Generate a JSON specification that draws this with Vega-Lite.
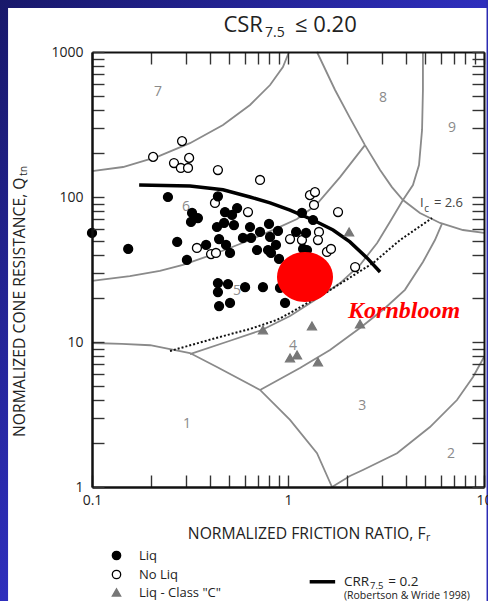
{
  "$schema": "https://vega.github.io/schema/vega-lite/v6.json",
  "width": 392,
  "height": 435,
  "autosize": {"type": "none"},
  "padding": {"left": 92, "top": 52, "right": 4, "bottom": 114},
  "background": "#2c2cb0",
  "config": {"view": {"stroke": null}, "font": "Open Sans"},
  "datasets": {
    "zones": [
      {"c": "z7", "i": 0, "Fr": 0.1, "Q": 151}, {"c": "z7", "i": 1, "Fr": 0.144, "Q": 161}, {"c": "z7", "i": 2, "Fr": 0.215, "Q": 189}, {"c": "z7", "i": 3, "Fr": 0.316, "Q": 235}, {"c": "z7", "i": 4, "Fr": 0.466, "Q": 314}, {"c": "z7", "i": 5, "Fr": 0.64, "Q": 431}, {"c": "z7", "i": 6, "Fr": 0.81, "Q": 592}, {"c": "z7", "i": 7, "Fr": 0.942, "Q": 788}, {"c": "z7", "i": 8, "Fr": 1.012, "Q": 1000},
      {"c": "z8", "i": 0, "Fr": 1.406, "Q": 1000}, {"c": "z8", "i": 1, "Fr": 1.738, "Q": 547}, {"c": "z8", "i": 2, "Fr": 2.07, "Q": 351}, {"c": "z8", "i": 3, "Fr": 2.47, "Q": 228}, {"c": "z8", "i": 4, "Fr": 2.95, "Q": 153.5}, {"c": "z8", "i": 5, "Fr": 3.39, "Q": 117}, {"c": "z8", "i": 6, "Fr": 3.86, "Q": 95.3}, {"c": "z8", "i": 7, "Fr": 4.71, "Q": 77.6}, {"c": "z8", "i": 8, "Fr": 5.97, "Q": 66.2}, {"c": "z8", "i": 9, "Fr": 7.81, "Q": 59.2}, {"c": "z8", "i": 10, "Fr": 10, "Q": 56.5},
      {"c": "z56", "i": 0, "Fr": 0.1, "Q": 26.4}, {"c": "z56", "i": 1, "Fr": 0.156, "Q": 28.5}, {"c": "z56", "i": 2, "Fr": 0.222, "Q": 30.9}, {"c": "z56", "i": 3, "Fr": 0.291, "Q": 34}, {"c": "z56", "i": 4, "Fr": 0.434, "Q": 41.1}, {"c": "z56", "i": 5, "Fr": 0.64, "Q": 50.5}, {"c": "z56", "i": 6, "Fr": 0.858, "Q": 60.1}, {"c": "z56", "i": 7, "Fr": 1.112, "Q": 70.5}, {"c": "z56", "i": 8, "Fr": 1.39, "Q": 88.1}, {"c": "z56", "i": 9, "Fr": 1.843, "Q": 137}, {"c": "z56", "i": 10, "Fr": 2.47, "Q": 228},
      {"c": "z45", "i": 0, "Fr": 0.316, "Q": 8.26}, {"c": "z45", "i": 1, "Fr": 0.506, "Q": 10.2}, {"c": "z45", "i": 2, "Fr": 0.736, "Q": 12.1}, {"c": "z45", "i": 3, "Fr": 1.024, "Q": 15.1}, {"c": "z45", "i": 4, "Fr": 1.373, "Q": 19.5}, {"c": "z45", "i": 5, "Fr": 1.843, "Q": 25.5}, {"c": "z45", "i": 6, "Fr": 2.33, "Q": 34}, {"c": "z45", "i": 7, "Fr": 2.85, "Q": 48.2}, {"c": "z45", "i": 8, "Fr": 3.31, "Q": 67.3}, {"c": "z45", "i": 9, "Fr": 3.86, "Q": 95.3}, {"c": "z45", "i": 10, "Fr": 4.34, "Q": 121}, {"c": "z45", "i": 11, "Fr": 4.66, "Q": 166}, {"c": "z45", "i": 12, "Fr": 4.83, "Q": 290}, {"c": "z45", "i": 13, "Fr": 4.88, "Q": 547}, {"c": "z45", "i": 14, "Fr": 4.88, "Q": 1000},
      {"c": "z34", "i": 0, "Fr": 0.72, "Q": 4.67}, {"c": "z34", "i": 1, "Fr": 1.151, "Q": 6.62}, {"c": "z34", "i": 2, "Fr": 1.638, "Q": 8.81}, {"c": "z34", "i": 3, "Fr": 2.33, "Q": 12.5}, {"c": "z34", "i": 4, "Fr": 3.12, "Q": 17.1}, {"c": "z34", "i": 5, "Fr": 3.95, "Q": 22.9}, {"c": "z34", "i": 6, "Fr": 4.88, "Q": 35.6}, {"c": "z34", "i": 7, "Fr": 5.62, "Q": 50.5}, {"c": "z34", "i": 8, "Fr": 6.1, "Q": 65.2},
      {"c": "z1", "i": 0, "Fr": 0.1, "Q": 9.84}, {"c": "z1", "i": 1, "Fr": 0.142, "Q": 9.7}, {"c": "z1", "i": 2, "Fr": 0.198, "Q": 9.5}, {"c": "z1", "i": 3, "Fr": 0.316, "Q": 8.39}, {"c": "z1", "i": 4, "Fr": 0.434, "Q": 6.73}, {"c": "z1", "i": 5, "Fr": 0.72, "Q": 4.67}, {"c": "z1", "i": 6, "Fr": 1.024, "Q": 2.9}, {"c": "z1", "i": 7, "Fr": 1.406, "Q": 1.71}, {"c": "z1", "i": 8, "Fr": 1.677, "Q": 1},
      {"c": "z2", "i": 0, "Fr": 1.677, "Q": 1}, {"c": "z2", "i": 1, "Fr": 2.07, "Q": 1.19}, {"c": "z2", "i": 2, "Fr": 2.41, "Q": 1.31}, {"c": "z2", "i": 3, "Fr": 3.6, "Q": 1.71}, {"c": "z2", "i": 4, "Fr": 5.3, "Q": 2.59}, {"c": "z2", "i": 5, "Fr": 7.28, "Q": 3.98}, {"c": "z2", "i": 6, "Fr": 8.79, "Q": 5.74}, {"c": "z2", "i": 7, "Fr": 10, "Q": 7.88}
    ],
    "crr": [
      {"i": 0, "Fr": 0.174, "Q": 121}, {"i": 1, "Fr": 0.316, "Q": 119}, {"i": 2, "Fr": 0.466, "Q": 112.3}, {"i": 3, "Fr": 0.64, "Q": 100}, {"i": 4, "Fr": 0.81, "Q": 91}, {"i": 5, "Fr": 1.024, "Q": 81.3}, {"i": 6, "Fr": 1.342, "Q": 69.4}, {"i": 7, "Fr": 1.698, "Q": 59.2}, {"i": 8, "Fr": 2.07, "Q": 49}, {"i": 9, "Fr": 2.53, "Q": 38}, {"i": 10, "Fr": 2.95, "Q": 30.4}
    ],
    "ic": [
      {"i": 0, "Fr": 0.25, "Q": 8.67}, {"i": 1, "Fr": 0.434, "Q": 10.7}, {"i": 2, "Fr": 0.64, "Q": 12.3}, {"i": 3, "Fr": 0.879, "Q": 14.2}, {"i": 4, "Fr": 1.024, "Q": 15.85}, {"i": 5, "Fr": 1.58, "Q": 22.1}, {"i": 6, "Fr": 2.72, "Q": 35.1}, {"i": 7, "Fr": 3.73, "Q": 50.5}, {"i": 8, "Fr": 5.43, "Q": 71.6}
    ],
    "cases": [
      {"type": "No Liq", "Fr": 0.205, "Q": 189}, {"type": "No Liq", "Fr": 0.288, "Q": 243}, {"type": "No Liq", "Fr": 0.262, "Q": 171.5}, {"type": "No Liq", "Fr": 0.284, "Q": 158.5}, {"type": "No Liq", "Fr": 0.309, "Q": 158.5}, {"type": "No Liq", "Fr": 0.313, "Q": 186}, {"type": "No Liq", "Fr": 0.439, "Q": 153.5}, {"type": "No Liq", "Fr": 0.72, "Q": 131}, {"type": "No Liq", "Fr": 0.424, "Q": 91}, {"type": "No Liq", "Fr": 0.625, "Q": 78.8}, {"type": "No Liq", "Fr": 0.343, "Q": 44.5}, {"type": "No Liq", "Fr": 0.405, "Q": 40.4}, {"type": "No Liq", "Fr": 0.429, "Q": 41.1}, {"type": "No Liq", "Fr": 1.024, "Q": 51.3}, {"type": "No Liq", "Fr": 1.178, "Q": 50.5}, {"type": "No Liq", "Fr": 1.294, "Q": 103}, {"type": "No Liq", "Fr": 1.373, "Q": 108}, {"type": "No Liq", "Fr": 1.357, "Q": 88.1}, {"type": "No Liq", "Fr": 1.8, "Q": 78.8}, {"type": "No Liq", "Fr": 1.439, "Q": 57.4}, {"type": "No Liq", "Fr": 1.422, "Q": 50.5}, {"type": "No Liq", "Fr": 1.58, "Q": 41.8}, {"type": "No Liq", "Fr": 1.657, "Q": 43.8}, {"type": "No Liq", "Fr": 2.2, "Q": 32.9},
      {"type": "Liq", "Fr": 0.1, "Q": 56.5}, {"type": "Liq", "Fr": 0.153, "Q": 43.8}, {"type": "Liq", "Fr": 0.244, "Q": 100}, {"type": "Liq", "Fr": 0.272, "Q": 49}, {"type": "Liq", "Fr": 0.305, "Q": 36.8}, {"type": "Liq", "Fr": 0.324, "Q": 77.6}, {"type": "Liq", "Fr": 0.347, "Q": 71.6}, {"type": "Liq", "Fr": 0.32, "Q": 67.3}, {"type": "Liq", "Fr": 0.382, "Q": 46.7}, {"type": "Liq", "Fr": 0.439, "Q": 101}, {"type": "Liq", "Fr": 0.434, "Q": 62.1}, {"type": "Liq", "Fr": 0.445, "Q": 51.3}, {"type": "Liq", "Fr": 0.472, "Q": 66.2}, {"type": "Liq", "Fr": 0.477, "Q": 78.8}, {"type": "Liq", "Fr": 0.483, "Q": 46.7}, {"type": "Liq", "Fr": 0.506, "Q": 41.1}, {"type": "Liq", "Fr": 0.518, "Q": 75.2}, {"type": "Liq", "Fr": 0.53, "Q": 64.1}, {"type": "Liq", "Fr": 0.55, "Q": 83.9}, {"type": "Liq", "Fr": 0.589, "Q": 52.2}, {"type": "Liq", "Fr": 0.64, "Q": 62.1}, {"type": "Liq", "Fr": 0.648, "Q": 52.2}, {"type": "Liq", "Fr": 0.695, "Q": 43.1}, {"type": "Liq", "Fr": 0.72, "Q": 57.4}, {"type": "Liq", "Fr": 0.791, "Q": 43.1}, {"type": "Liq", "Fr": 0.8, "Q": 65.2}, {"type": "Liq", "Fr": 0.81, "Q": 53}, {"type": "Liq", "Fr": 0.819, "Q": 41.1}, {"type": "Liq", "Fr": 0.868, "Q": 46.7}, {"type": "Liq", "Fr": 0.889, "Q": 58.3}, {"type": "Liq", "Fr": 0.9, "Q": 37.4}, {"type": "Liq", "Fr": 1.1, "Q": 57.4}, {"type": "Liq", "Fr": 1.236, "Q": 56.5}, {"type": "Liq", "Fr": 1.178, "Q": 77.6}, {"type": "Liq", "Fr": 1.342, "Q": 69.4}, {"type": "Liq", "Fr": 1.194, "Q": 43.8}, {"type": "Liq", "Fr": 1.25, "Q": 43.1}, {"type": "Liq", "Fr": 0.439, "Q": 25.5}, {"type": "Liq", "Fr": 0.494, "Q": 25.1}, {"type": "Liq", "Fr": 0.439, "Q": 22.1}, {"type": "Liq", "Fr": 0.604, "Q": 23.9}, {"type": "Liq", "Fr": 0.745, "Q": 23.9}, {"type": "Liq", "Fr": 0.91, "Q": 23.6}, {"type": "Liq", "Fr": 0.445, "Q": 17.7}, {"type": "Liq", "Fr": 0.506, "Q": 18.6}, {"type": "Liq", "Fr": 0.966, "Q": 18.6},
      {"type": "Liq - Class \"C\"", "Fr": 0.745, "Q": 12.1}, {"type": "Liq - Class \"C\"", "Fr": 1.325, "Q": 12.9}, {"type": "Liq - Class \"C\"", "Fr": 2.33, "Q": 13.3}, {"type": "Liq - Class \"C\"", "Fr": 1.024, "Q": 7.76}, {"type": "Liq - Class \"C\"", "Fr": 1.112, "Q": 8.13}, {"type": "Liq - Class \"C\"", "Fr": 1.422, "Q": 7.29}, {"type": "Liq - Class \"C\"", "Fr": 2.05, "Q": 57.4}
    ],
    "zoneNames": [
      {"t": "7", "Fr": 0.217, "Q": 530}, {"t": "8", "Fr": 3.05, "Q": 482}, {"t": "9", "Fr": 6.87, "Q": 299}, {"t": "6", "Fr": 0.302, "Q": 85.3}, {"t": "5", "Fr": 0.55, "Q": 22.5}, {"t": "4", "Fr": 1.061, "Q": 9.38}, {"t": "3", "Fr": 2.39, "Q": 3.62}, {"t": "2", "Fr": 6.79, "Q": 1.69}, {"t": "1", "Fr": 0.305, "Q": 2.72}
    ]
  },
  "layer": [
    {
      "data": {"values": [{}]},
      "mark": {"type": "rect", "fill": {"gradient": "linear", "x1": 0, "y1": 0, "x2": 1, "y2": 1, "stops": [{"offset": 0, "color": "#18186a"}, {"offset": 0.5, "color": "#2e2ebc"}, {"offset": 1, "color": "#3c3ce0"}]}},
      "encoding": {
        "x": {"datum": 0.0339, "type": "quantitative", "scale": {"type": "log", "domain": [0.1, 10], "nice": false}, "axis": null},
        "x2": {"datum": 10.3},
        "y": {"datum": 2300, "type": "quantitative", "scale": {"type": "log", "domain": [1, 1000], "nice": false}, "axis": null},
        "y2": {"datum": 0.16}
      }
    },
    {
      "data": {"values": [{}]},
      "mark": {"type": "rect", "fill": "#ffffff"},
      "encoding": {
        "x": {"datum": 0.0373, "type": "quantitative", "axis": null},
        "x2": {"datum": 10.3},
        "y": {"datum": 2011, "type": "quantitative", "axis": null},
        "y2": {"datum": 0.16}
      }
    },
    {
      "data": {"name": "zones"},
      "mark": {"type": "line", "color": "#8a8a8a", "strokeWidth": 1.8},
      "encoding": {
        "x": {
          "field": "Fr", "type": "quantitative",
          "axis": {
            "orient": "bottom", "zindex": 1,
            "values": [0.1, 0.2, 0.3, 0.4, 0.5, 0.6, 0.7, 0.8, 0.9, 1, 2, 3, 4, 5, 6, 7, 8, 9, 10],
            "labelExpr": "datum.value == 0.1 ? '0.1' : (datum.value == 1 ? '1' : (datum.value == 10 ? '10' : ''))",
            "labelOverlap": false, "labelFlush": false, "grid": false,
            "tickSize": -12, "tickColor": "#333", "tickWidth": 1.4,
            "domainColor": "#111", "domainWidth": 2.5,
            "labelPadding": 18, "labelFontSize": 14, "labelColor": "#222", "labelFont": "Open Sans",
            "title": "NORMALIZED FRICTION RATIO, F", "titleFont": "Open Sans", "titleFontSize": 15.7, "titleFontWeight": "normal", "titleColor": "#222",
            "titleX": 333, "titleY": 51, "titleAlign": "right", "titleBaseline": "alphabetic"
          }
        },
        "y": {
          "field": "Q", "type": "quantitative",
          "axis": {
            "orient": "left", "zindex": 1,
            "values": [1, 2, 3, 4, 5, 6, 7, 8, 9, 10, 20, 30, 40, 50, 60, 70, 80, 90, 100, 200, 300, 400, 500, 600, 700, 800, 900, 1000],
            "labelExpr": "(datum.value == 1 || datum.value == 10 || datum.value == 100 || datum.value == 1000) ? format(datum.value, 'd') : ''",
            "labelOverlap": false, "labelFlush": false, "grid": false,
            "tickSize": -12, "tickColor": "#333", "tickWidth": 1.4,
            "domainColor": "#111", "domainWidth": 2.5,
            "labelPadding": 21, "labelFontSize": 14, "labelColor": "#222", "labelFont": "Open Sans",
            "title": "NORMALIZED CONE RESISTANCE, Q", "titleFont": "Open Sans", "titleFontSize": 15.7, "titleFontWeight": "normal", "titleColor": "#222",
            "titleX": -68, "titleY": 125, "titleAlign": "right", "titleBaseline": "alphabetic", "titleAngle": 270
          }
        },
        "detail": {"field": "c"},
        "order": {"field": "i", "type": "quantitative"}
      }
    },
    {
      "data": {"name": "ic"},
      "mark": {"type": "line", "color": "#111", "strokeWidth": 2, "strokeDash": [2, 2]},
      "encoding": {
        "x": {
          "field": "Fr", "type": "quantitative",
          "axis": {
            "orient": "top", "zindex": 1, "labels": false, "title": null, "grid": false,
            "values": [0.1, 0.2, 0.3, 0.4, 0.5, 0.6, 0.7, 0.8, 0.9, 1, 2, 3, 4, 5, 6, 7, 8, 9, 10],
            "tickSize": -12, "tickColor": "#333", "tickWidth": 1.4, "domainColor": "#111", "domainWidth": 2
          }
        },
        "y": {
          "field": "Q", "type": "quantitative",
          "axis": {
            "orient": "right", "zindex": 1, "labels": false, "title": null, "grid": false,
            "values": [1, 2, 3, 4, 5, 6, 7, 8, 9, 10, 20, 30, 40, 50, 60, 70, 80, 90, 100, 200, 300, 400, 500, 600, 700, 800, 900, 1000],
            "tickSize": -12, "tickColor": "#333", "tickWidth": 1.4, "domainColor": "#111", "domainWidth": 2
          }
        },
        "order": {"field": "i", "type": "quantitative"}
      }
    },
    {
      "data": {"name": "crr"},
      "mark": {"type": "line", "color": "#000", "strokeWidth": 3.5},
      "encoding": {
        "x": {"field": "Fr", "type": "quantitative", "axis": null},
        "y": {"field": "Q", "type": "quantitative", "axis": null},
        "order": {"field": "i", "type": "quantitative"}
      }
    },
    {
      "data": {"name": "zoneNames"},
      "mark": {"type": "text", "fontSize": 14, "color": "#8a8a8a", "font": "Open Sans", "align": "center", "baseline": "middle"},
      "encoding": {
        "x": {"field": "Fr", "type": "quantitative", "axis": null},
        "y": {"field": "Q", "type": "quantitative", "axis": null},
        "text": {"field": "t"}
      }
    },
    {
      "data": {"name": "cases"},
      "mark": {"type": "point", "filled": true, "size": 80, "strokeWidth": 1.3, "opacity": 1},
      "encoding": {
        "x": {"field": "Fr", "type": "quantitative", "axis": null},
        "y": {"field": "Q", "type": "quantitative", "axis": null},
        "shape": {
          "field": "type", "type": "nominal",
          "scale": {"domain": ["Liq", "No Liq", "Liq - Class \"C\""], "range": ["circle", "circle", "triangle-up"]},
          "legend": {"orient": "none", "legendX": 18, "legendY": 497, "title": null, "labelFontSize": 13, "labelColor": "#222", "labelFont": "Open Sans", "symbolSize": 70, "symbolStrokeWidth": 1.3, "rowPadding": 4, "labelOffset": 16, "padding": 0}
        },
        "fill": {
          "field": "type", "type": "nominal",
          "scale": {"domain": ["Liq", "No Liq", "Liq - Class \"C\""], "range": ["#000000", "#ffffff", "#777777"]},
          "legend": {"orient": "none", "legendX": 18, "legendY": 497, "title": null, "labelFontSize": 13, "labelColor": "#222", "labelFont": "Open Sans", "symbolSize": 70, "symbolStrokeWidth": 1.3, "rowPadding": 4, "labelOffset": 16, "padding": 0}
        },
        "stroke": {
          "field": "type", "type": "nominal",
          "scale": {"domain": ["Liq", "No Liq", "Liq - Class \"C\""], "range": ["#000000", "#000000", "#777777"]},
          "legend": {"orient": "none", "legendX": 18, "legendY": 497, "title": null, "labelFontSize": 13, "labelColor": "#222", "labelFont": "Open Sans", "symbolSize": 70, "symbolStrokeWidth": 1.3, "rowPadding": 4, "labelOffset": 16, "padding": 0}
        }
      }
    },
    {
      "data": {"values": [{"site": "Kornbloom", "Fr": 1.221, "Q": 28.1}]},
      "mark": {"type": "point", "shape": "M -1 0 A 1 0.893 0 1 0 1 0 A 1 0.893 0 1 0 -1 0 Z", "size": 3136, "filled": true, "color": "#ff0000", "opacity": 1},
      "encoding": {
        "x": {"field": "Fr", "type": "quantitative", "axis": null},
        "y": {"field": "Q", "type": "quantitative", "axis": null}
      }
    },
    {
      "data": {"values": [{"site": "Kornbloom", "Fr": 3.91, "Q": 14.6}]},
      "mark": {"type": "text", "font": "Liberation Serif", "fontStyle": "italic", "fontWeight": "bold", "fontSize": 24, "color": "#ff0000", "align": "center", "baseline": "alphabetic"},
      "encoding": {
        "x": {"field": "Fr", "type": "quantitative", "axis": null},
        "y": {"field": "Q", "type": "quantitative", "axis": null},
        "text": {"field": "site"}
      }
    },
    {
      "data": {"values": [{}]},
      "mark": {"type": "text", "fontSize": 10.5, "color": "#222", "align": "left", "baseline": "alphabetic", "angle": 270},
      "encoding": {"x": {"datum": 0.0466, "type": "quantitative", "axis": null}, "y": {"datum": 139.6, "type": "quantitative", "axis": null}, "text": {"value": "tn"}}
    },
    {
      "data": {"values": [{}]},
      "mark": {"type": "text", "fontSize": 10.5, "color": "#222", "align": "left", "baseline": "alphabetic"},
      "encoding": {"x": {"datum": 5.06, "type": "quantitative", "axis": null}, "y": {"datum": 0.424, "type": "quantitative", "axis": null}, "text": {"value": "r"}}
    },
    {
      "data": {"values": [{}]},
      "mark": {"type": "text", "fontSize": 13, "color": "#444", "align": "left", "baseline": "alphabetic"},
      "encoding": {"x": {"datum": 4.71, "type": "quantitative", "axis": null}, "y": {"datum": 85.3, "type": "quantitative", "axis": null}, "text": {"value": "I"}}
    },
    {
      "data": {"values": [{}]},
      "mark": {"type": "text", "fontSize": 10, "color": "#444", "align": "left", "baseline": "alphabetic"},
      "encoding": {"x": {"datum": 4.95, "type": "quantitative", "axis": null}, "y": {"datum": 78.8, "type": "quantitative", "axis": null}, "text": {"value": "c"}}
    },
    {
      "data": {"values": [{}]},
      "mark": {"type": "text", "fontSize": 13, "color": "#444", "align": "left", "baseline": "alphabetic"},
      "encoding": {"x": {"datum": 5.55, "type": "quantitative", "axis": null}, "y": {"datum": 85.3, "type": "quantitative", "axis": null}, "text": {"value": "= 2.6"}}
    },
    {
      "data": {"values": [{}]},
      "mark": {"type": "text", "fontSize": 22, "color": "#222", "align": "right", "baseline": "alphabetic"},
      "encoding": {"x": {"datum": 0.745, "type": "quantitative", "axis": null}, "y": {"datum": 1374, "type": "quantitative", "axis": null}, "text": {"value": "CSR"}}
    },
    {
      "data": {"values": [{}]},
      "mark": {"type": "text", "fontSize": 14, "color": "#222", "align": "left", "baseline": "alphabetic"},
      "encoding": {"x": {"datum": 0.763, "type": "quantitative", "axis": null}, "y": {"datum": 1269, "type": "quantitative", "axis": null}, "text": {"value": "7.5"}}
    },
    {
      "data": {"values": [{}]},
      "mark": {"type": "text", "fontSize": 22, "color": "#222", "align": "left", "baseline": "alphabetic"},
      "encoding": {"x": {"datum": 1.085, "type": "quantitative", "axis": null}, "y": {"datum": 1374, "type": "quantitative", "axis": null}, "text": {"value": "≤ 0.20"}}
    },
    {
      "data": {"values": [{}]},
      "mark": {"type": "rule", "color": "#000", "strokeWidth": 3.5},
      "encoding": {"x": {"datum": 1.29, "type": "quantitative", "axis": null}, "x2": {"datum": 1.74}, "y": {"datum": 0.222, "type": "quantitative", "axis": null}}
    },
    {
      "data": {"values": [{}]},
      "mark": {"type": "text", "fontSize": 13.5, "color": "#222", "align": "left", "baseline": "alphabetic"},
      "encoding": {"x": {"datum": 1.93, "type": "quantitative", "axis": null}, "y": {"datum": 0.2075, "type": "quantitative", "axis": null}, "text": {"value": "CRR"}}
    },
    {
      "data": {"values": [{}]},
      "mark": {"type": "text", "fontSize": 9.5, "color": "#222", "align": "left", "baseline": "alphabetic"},
      "encoding": {"x": {"datum": 2.62, "type": "quantitative", "axis": null}, "y": {"datum": 0.198, "type": "quantitative", "axis": null}, "text": {"value": "7.5"}}
    },
    {
      "data": {"values": [{}]},
      "mark": {"type": "text", "fontSize": 13.5, "color": "#222", "align": "left", "baseline": "alphabetic"},
      "encoding": {"x": {"datum": 3.25, "type": "quantitative", "axis": null}, "y": {"datum": 0.2075, "type": "quantitative", "axis": null}, "text": {"value": "= 0.2"}}
    },
    {
      "data": {"values": [{}]},
      "mark": {"type": "text", "fontSize": 10.5, "color": "#222", "align": "left", "baseline": "alphabetic"},
      "encoding": {"x": {"datum": 1.93, "type": "quantitative", "axis": null}, "y": {"datum": 0.169, "type": "quantitative", "axis": null}, "text": {"value": "(Robertson & Wride 1998)"}}
    }
  ],
  "resolve": {"axis": {"x": "independent", "y": "independent"}}
}
